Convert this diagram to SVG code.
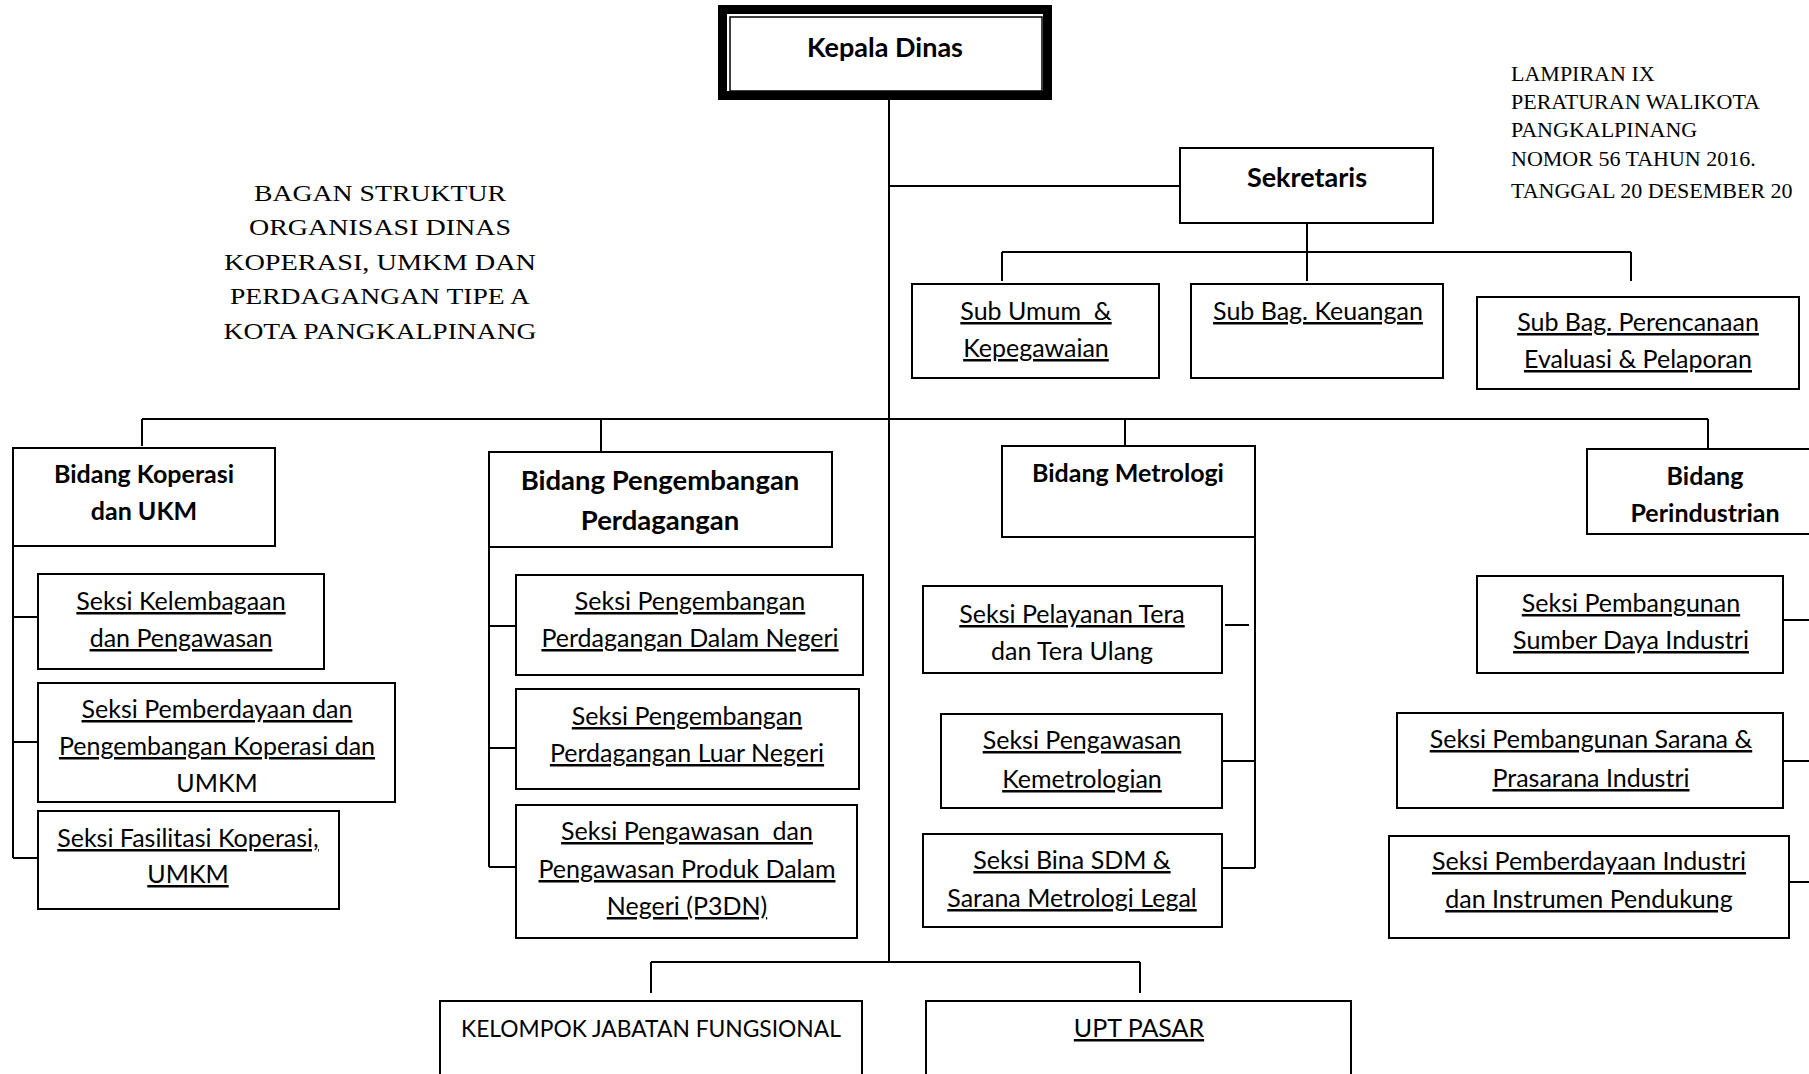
<svg xmlns="http://www.w3.org/2000/svg" width="1809" height="1074" viewBox="0 0 1809 1074">
<style>
.b{fill:#fff;stroke:#000;stroke-width:2}
.c path{stroke:#000;stroke-width:2;fill:none}
.t{font-family:Lato,'Liberation Sans',sans-serif;font-size:25px;text-anchor:middle;fill:#000;white-space:pre}
.h{font-weight:bold}
.u{text-decoration:underline;text-decoration-thickness:1.6px;text-underline-offset:3px;text-decoration-skip-ink:none}
.s{font-family:'Liberation Serif',serif;font-size:22px;fill:#000}
.sc{text-anchor:middle;font-size:23.5px}
</style>
<rect width="1809" height="1074" fill="#fff"/>
<g id="title">
<text class="s sc" x="380" y="201" textLength="252" lengthAdjust="spacingAndGlyphs">BAGAN STRUKTUR</text>
<text class="s sc" x="380" y="235" textLength="262" lengthAdjust="spacingAndGlyphs">ORGANISASI DINAS</text>
<text class="s sc" x="380" y="270" textLength="312" lengthAdjust="spacingAndGlyphs">KOPERASI, UMKM DAN</text>
<text class="s sc" x="380" y="304" textLength="300" lengthAdjust="spacingAndGlyphs">PERDAGANGAN TIPE A</text>
<text class="s sc" x="380" y="339" textLength="313" lengthAdjust="spacingAndGlyphs">KOTA PANGKALPINANG</text>
</g>
<g id="lampiran">
<text class="s" x="1511" y="81">LAMPIRAN IX</text>
<text class="s" x="1511" y="109">PERATURAN WALIKOTA</text>
<text class="s" x="1511" y="137">PANGKALPINANG</text>
<text class="s" x="1511" y="166">NOMOR 56 TAHUN 2016.</text>
<text class="s" x="1511" y="198">TANGGAL 20 DESEMBER 20</text>
</g>
<g class="c" id="connectors">
<path d="M889 100V962"/>
<path d="M889 186H1180"/>
<path d="M1307 223V281M1002 252H1631M1002 252V281M1631 252V281"/>
<path d="M142 419H1708M142 419V446M601 419V452M1125 419V446M1708 419V449"/>
<path d="M13 546V858M13 617H38M13 742H38M13 858H38"/>
<path d="M489 547V867M489 626H516M489 748H516M489 867H516"/>
<path d="M1255 537V868M1225 625H1249M1222 761H1255M1222 868H1255"/>
<path d="M1783 620H1815M1783 761H1815M1789 882H1815"/>
<path d="M651 962H1140M651 962V993M1140 962V993"/>
</g>
<g id="kepala-dinas">
<rect x="722.5" y="9.5" width="325" height="86" fill="#fff" stroke="#000" stroke-width="9"/>
<rect x="730" y="17" width="312" height="74" fill="none" stroke="#000" stroke-width="1.5"/>
<text class="t h" x="885" y="57" style="font-size:27px">Kepala Dinas</text>
</g>
<g id="sekretaris">
<rect class="b" x="1180" y="148" width="253" height="75"/>
<text class="t h" x="1307" y="187" style="font-size:27px">Sekretaris</text>
</g>
<g id="sub-umum">
<rect class="b" x="912" y="284" width="247" height="94"/>
<text class="t u" x="1036" y="320">Sub Umum  &amp;</text>
<text class="t u" x="1036" y="357">Kepegawaian</text>
</g>
<g id="sub-keuangan">
<rect class="b" x="1191" y="284" width="252" height="94"/>
<text class="t u" x="1318" y="320">Sub Bag. Keuangan</text>
</g>
<g id="sub-perencanaan">
<rect class="b" x="1477" y="297" width="322" height="92"/>
<text class="t u" x="1638" y="331">Sub Bag. Perencanaan</text>
<text class="t u" x="1638" y="368">Evaluasi &amp; Pelaporan</text>
</g>
<g id="bidang-koperasi">
<rect class="b" x="13" y="448" width="262" height="98"/>
<text class="t h" x="144" y="483">Bidang Koperasi</text>
<text class="t h" x="144" y="520">dan UKM</text>
</g>
<g id="seksi-kelembagaan">
<rect class="b" x="38" y="574" width="286" height="95"/>
<text class="t u" x="181" y="610">Seksi Kelembagaan</text>
<text class="t u" x="181" y="647">dan Pengawasan</text>
</g>
<g id="seksi-pemberdayaan-koperasi">
<rect class="b" x="38" y="683" width="357" height="119"/>
<text class="t u" x="217" y="718">Seksi Pemberdayaan dan</text>
<text class="t u" x="217" y="755">Pengembangan Koperasi dan</text>
<text class="t" x="217" y="792">UMKM</text>
</g>
<g id="seksi-fasilitasi">
<rect class="b" x="38" y="811" width="301" height="98"/>
<text class="t u" x="188" y="847">Seksi Fasilitasi Koperasi,</text>
<text class="t u" x="188" y="883">UMKM</text>
</g>
<g id="bidang-pengembangan">
<rect class="b" x="489" y="452" width="343" height="95"/>
<text class="t h" x="660" y="490" style="font-size:27.5px">Bidang Pengembangan</text>
<text class="t h" x="660" y="530" style="font-size:27.5px">Perdagangan</text>
</g>
<g id="seksi-pdn">
<rect class="b" x="516" y="575" width="347" height="100"/>
<text class="t u" x="690" y="610">Seksi Pengembangan</text>
<text class="t u" x="690" y="647">Perdagangan Dalam Negeri</text>
</g>
<g id="seksi-pln">
<rect class="b" x="516" y="689" width="343" height="100"/>
<text class="t u" x="687" y="725">Seksi Pengembangan</text>
<text class="t u" x="687" y="762">Perdagangan Luar Negeri</text>
</g>
<g id="seksi-p3dn">
<rect class="b" x="516" y="805" width="341" height="133"/>
<text class="t u" x="687" y="840">Seksi Pengawasan  dan</text>
<text class="t u" x="687" y="878">Pengawasan Produk Dalam</text>
<text class="t u" x="687" y="915">Negeri (P3DN)</text>
</g>
<g id="bidang-metrologi">
<rect class="b" x="1002" y="446" width="253" height="91"/>
<text class="t h" x="1128" y="482">Bidang Metrologi</text>
</g>
<g id="seksi-pelayanan-tera">
<rect class="b" x="923" y="586" width="299" height="87"/>
<text class="t u" x="1072" y="623">Seksi Pelayanan Tera</text>
<text class="t" x="1072" y="660">dan Tera Ulang</text>
</g>
<g id="seksi-pengawasan-kemetrologian">
<rect class="b" x="941" y="714" width="281" height="94"/>
<text class="t u" x="1082" y="749">Seksi Pengawasan</text>
<text class="t u" x="1082" y="788">Kemetrologian</text>
</g>
<g id="seksi-bina-sdm">
<rect class="b" x="923" y="834" width="299" height="93"/>
<text class="t u" x="1072" y="869">Seksi Bina SDM &amp;</text>
<text class="t u" x="1072" y="907">Sarana Metrologi Legal</text>
</g>
<g id="bidang-perindustrian">
<rect class="b" x="1587" y="449" width="240" height="85"/>
<text class="t h" x="1705" y="485">Bidang</text>
<text class="t h" x="1705" y="522">Perindustrian</text>
</g>
<g id="seksi-pembangunan-sdi">
<rect class="b" x="1477" y="576" width="306" height="97"/>
<text class="t u" x="1631" y="612">Seksi Pembangunan</text>
<text class="t u" x="1631" y="649">Sumber Daya Industri</text>
</g>
<g id="seksi-pembangunan-sarana">
<rect class="b" x="1397" y="713" width="386" height="95"/>
<text class="t u" x="1591" y="748">Seksi Pembangunan Sarana &amp;</text>
<text class="t u" x="1591" y="787">Prasarana Industri</text>
</g>
<g id="seksi-pemberdayaan-industri">
<rect class="b" x="1389" y="836" width="400" height="102"/>
<text class="t u" x="1589" y="870">Seksi Pemberdayaan Industri</text>
<text class="t u" x="1589" y="908">dan Instrumen Pendukung</text>
</g>
<g id="kelompok-jabatan-fungsional">
<rect class="b" x="440" y="1001" width="422" height="100"/>
<text class="t" x="651" y="1037" style="font-size:22.8px">KELOMPOK JABATAN FUNGSIONAL</text>
</g>
<g id="upt-pasar">
<rect class="b" x="926" y="1001" width="425" height="100"/>
<text class="t u" x="1139" y="1037">UPT PASAR</text>
</g>
</svg>
